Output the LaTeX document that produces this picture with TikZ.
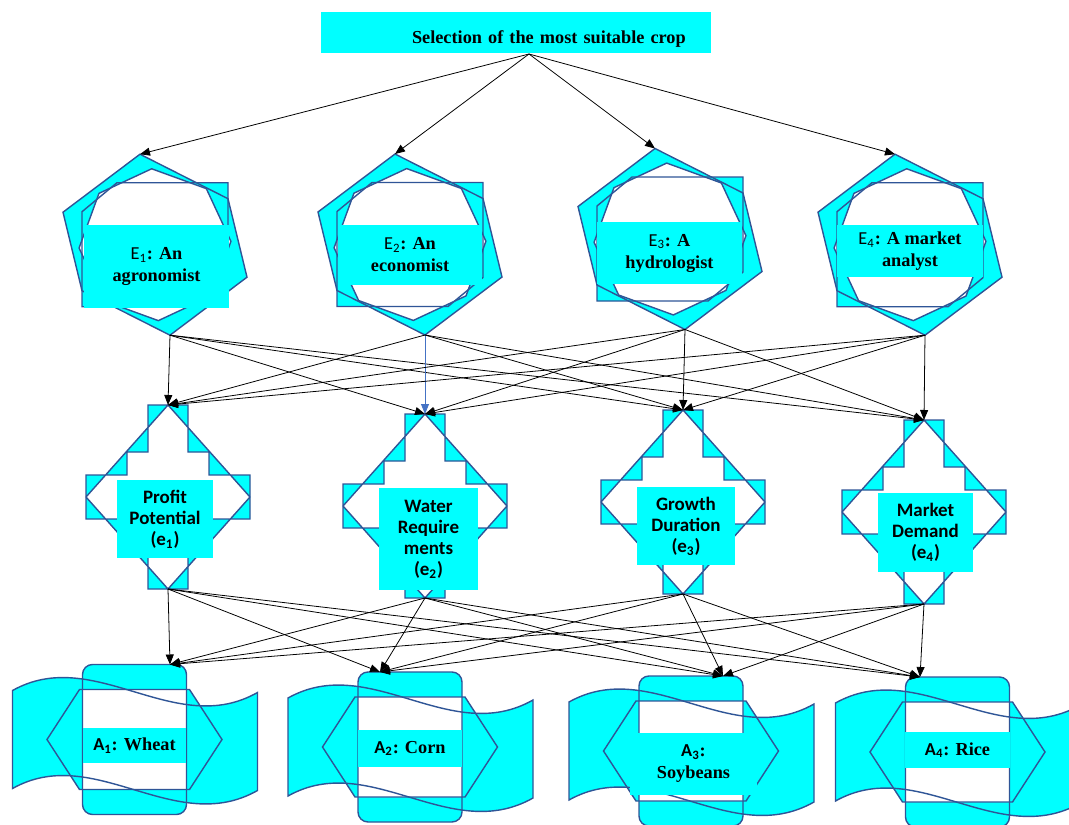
\documentclass[tikz,border=0pt]{standalone}
\usepackage{fontspec}
\setmainfont{Liberation Serif}
\setsansfont{Carlito}
\usetikzlibrary{arrows.meta}
\definecolor{boxcyan}{RGB}{0,255,255}
\definecolor{edgeblue}{RGB}{47,85,151}
\definecolor{arrowblue}{RGB}{68,114,196}

\begin{document}
\begin{tikzpicture}[x=0.2mm, y=-0.2mm,
  outline/.style={draw=edgeblue, line width=0.8pt},
  labelbox/.style={fill=boxcyan, inner sep=0pt, align=center, font=\fontsize{10.4}{12.5}\selectfont\bfseries},
  critbox/.style={fill=boxcyan, inner sep=0pt, align=center, font=\sffamily\fontsize{10.8}{12}\selectfont\bfseries},
  arr/.style={-{Triangle[length=2mm,width=1.6mm]}, line width=0.45pt}]
  \useasboundingbox (0,0) rectangle (1069,825);

  % goal
  \node[labelbox, minimum width=78mm, text width=78mm, align=left, text height=6.2mm, text depth=2mm]
    (title) at (516,32.5) {\hspace*{18.2mm}Selection of the most suitable crop};
  \coordinate (goal) at (529,54);

  % experts
  \foreach \n/\cx/\cy in {1/155/244.7, 2/410/244.5, 3/670/239, 4/910/244.7} {
    \begin{scope}[shift={(\cx,\cy)}]
      \fill[boxcyan] (-15,-90.5) -- (73,-46) -- (92,32.5) -- (15,90.5) -- (-73,46) -- (-92,-32.5) -- cycle;
      \fill[boxcyan] (-38,-62) -- (73,-62) -- (73,33) -- (38,62) -- (-73,62) -- (-73,-33) -- cycle;
      \fill[white] (267.5:76) -- (312.5:76) -- (357.5:76) -- (42.5:76) -- (87.5:76) -- (132.5:76) -- (177.5:76) -- (222.5:76) -- cycle;
      \draw[outline] (-15,-90.5) -- (73,-46) -- (92,32.5) -- (15,90.5) -- (-73,46) -- (-92,-32.5) -- cycle;
      \draw[outline] (-38,-62) -- (73,-62) -- (73,33) -- (38,62) -- (-73,62) -- (-73,-33) -- cycle;
      \draw[outline] (267.5:76) -- (312.5:76) -- (357.5:76) -- (42.5:76) -- (87.5:76) -- (132.5:76) -- (177.5:76) -- (222.5:76) -- cycle;
      \coordinate (E\n-in) at (-15,-90.5);
      \coordinate (E\n-out) at (15,90.5);
    \end{scope}
  }
  \node[labelbox, minimum width=29mm, minimum height=16.6mm] (E1) at (156.5,266.5) {{\sffamily\mdseries E\textsubscript{1}}: An\\agronomist};
  \node[labelbox, minimum width=28.8mm, minimum height=12mm] (E2) at (410,255) {{\sffamily\mdseries E\textsubscript{2}}: An\\economist};
  \node[labelbox, minimum width=29mm, minimum height=12.4mm] (E3) at (669.5,253) {{\sffamily\mdseries E\textsubscript{3}}: A\\hydrologist};
  \node[labelbox, minimum width=29.3mm, minimum height=10.3mm] (E4) at (910,251) {{\sffamily\mdseries E\textsubscript{4}}: A market\\analyst};

  % criteria
  \foreach \n/\cx/\cy in {1/168/497, 2/425/506, 3/683/502, 4/924/512} {
    \begin{scope}[shift={(\cx,\cy)}]
      \path[fill=boxcyan, even odd rule, outline]
        (-20,-92) -- (20,-92) -- (20,-45) -- (41,-45) -- (41,-22) -- (82,-22) -- (82,22) -- (41,22) -- (41,45)
        -- (20,45) -- (20,92) -- (-20,92) -- (-20,45) -- (-41,45) -- (-41,22) -- (-82,22) -- (-82,-22)
        -- (-41,-22) -- (-41,-45) -- (-20,-45) -- cycle
        (0,-92) -- (82,0) -- (0,92) -- (-82,0) -- cycle;
      \coordinate (C\n-in) at (0,-92);
      \coordinate (C\n-out) at (0,92);
    \end{scope}
  }
  \node[critbox, minimum width=19.2mm, minimum height=15.6mm] (C1) at (165,519) {Profit\\Potential\\(e\textsubscript{1})};
  \node[critbox, minimum width=19.8mm, minimum height=20.4mm] (C2) at (428.5,539) {Water\\Require\\ments\\(e\textsubscript{2})};
  \node[critbox, minimum width=19.6mm, minimum height=15.6mm] (C3) at (686,526) {Growth\\Duration\\(e\textsubscript{3})};
  \node[critbox, minimum width=19mm, minimum height=15.8mm] (C4) at (925.5,532.5) {Market\\Demand\\(e\textsubscript{4})};

  % alternatives
  \foreach \n/\cx/\cy/\tx in {1/134.5/739.5/35.5, 2/410/747/-30, 3/691/751/32, 4/957.5/752/-37.5} {
    \begin{scope}[shift={(\cx,\cy)}]
      \fill[boxcyan] (-122,-49) .. controls (-40,-95) and (40,0) .. (123,-47) -- (123,51)
        .. controls (40,98) and (-40,3) .. (-122,49) -- cycle;
      \fill[boxcyan, rounded corners=2mm] (-52,-75) rectangle (52,75);
      \fill[boxcyan] (-87.5,0) -- (-55,-50) -- (55,-50) -- (87.5,0) -- (55,50) -- (-55,50) -- cycle;
      \begin{scope}
        \clip (-52,-75) rectangle (52,75);
        \fill[white] (-87.5,0) -- (-55,-50) -- (55,-50) -- (87.5,0) -- (55,50) -- (-55,50) -- cycle;
      \end{scope}
      \draw[outline] (-122,-49) .. controls (-40,-95) and (40,0) .. (123,-47) -- (123,51)
        .. controls (40,98) and (-40,3) .. (-122,49) -- cycle;
      \draw[outline, rounded corners=2mm] (-52,-75) rectangle (52,75);
      \draw[outline] (-87.5,0) -- (-55,-50) -- (55,-50) -- (87.5,0) -- (55,50) -- (-55,50) -- cycle;
      \coordinate (A\n-in) at (\tx,-75);
    \end{scope}
  }
  \node[labelbox, minimum width=20.6mm, minimum height=7mm] (A1) at (134.5,745.5) {{\sffamily A\textsubscript{1}}: Wheat};
  \node[labelbox, minimum width=20.8mm, minimum height=7.4mm] (A2) at (410,748.5) {{\sffamily A\textsubscript{2}}: Corn};
  \node[labelbox, minimum width=25.4mm, minimum height=12.4mm] (A3) at (693.5,764) {{\sffamily A\textsubscript{3}}:\\Soybeans};
  \node[labelbox, minimum width=21mm, minimum height=7.2mm] (A4) at (957.5,750) {{\sffamily A\textsubscript{4}}: Rice};

  % connectors
  \foreach \i in {1,...,4} \draw[arr] (goal) -- (E\i-in);
  \foreach \i in {1,...,4} \foreach \j in {1,...,4} {
    \ifnum\i\j=22 \def\acol{arrowblue}\else\def\acol{black}\fi
    \draw[arr, \acol] (E\i-out) -- (C\j-in);
  }
  \foreach \j in {1,...,4} \foreach \k in {1,...,4} \draw[arr] (C\j-out) -- (A\k-in);
\end{tikzpicture}
\end{document}
